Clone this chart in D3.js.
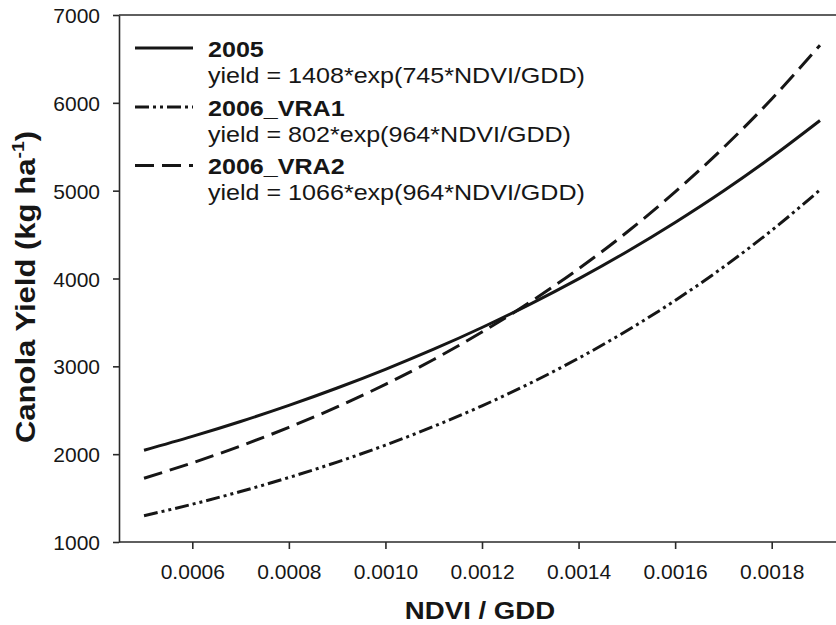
<!DOCTYPE html>
<html>
<head>
<meta charset="utf-8">
<script src="https://cdn.jsdelivr.net/npm/d3@7/dist/d3.min.js"></script>
<style>
  html, body { margin: 0; padding: 0; background: #fff; }
  svg { display: block; font-family: "Liberation Sans", Arial, sans-serif; }
</style>
</head>
<body>
<svg id="chart" width="836" height="625"></svg>
<script>
// NDVI/GDD sample positions along each fitted curve
const ndviGdd = [0.0005, 0.0006, 0.0007, 0.0008, 0.0009, 0.0010, 0.0011, 0.0012,
                 0.0013, 0.0014, 0.0015, 0.0016, 0.0017, 0.0018, 0.0019];

// Canola yield (kg/ha) along each fitted curve
const yield2005 = [2044, 2202, 2372, 2555, 2753, 2966, 3195, 3442,
                   3709, 3996, 4305, 4638, 4996, 5383, 5799];
const yieldVRA1 = [1299, 1430, 1575, 1734, 1910, 2103, 2316, 2550,
                   2808, 3092, 3405, 3750, 4130, 4548, 5008];
const yieldVRA2 = [1726, 1901, 2093, 2305, 2538, 2795, 3078, 3390,
                   3733, 4110, 4526, 4985, 5489, 6044, 6656];

const seriesNames = ["2005", "2006_VRA1", "2006_VRA2"];
const equations = [
  "yield = 1408*exp(745*NDVI/GDD)",
  "yield = 802*exp(964*NDVI/GDD)",
  "yield = 1066*exp(964*NDVI/GDD)"
];

const xTicks = [0.0006, 0.0008, 0.0010, 0.0012, 0.0014, 0.0016, 0.0018];
const yTicks = [1000, 2000, 3000, 4000, 5000, 6000, 7000];

(function draw() {
  const svg = d3.select("#chart");
  const ink = "#161616";
  const axisInk = "#2a2a2a";

  const plotLeft = 119, plotTop = 15, plotBottom = 542;
  const x = d3.scaleLinear().domain([0.0006, 0.0018]).range([192.3, 771.7]);
  const y = d3.scaleLinear().domain([1000, 7000]).range([plotBottom, plotTop]);

  // axes
  const xAxis = d3.axisBottom(x).tickValues(xTicks).tickFormat(d3.format(".4f"))
    .tickSize(7).tickSizeOuter(0);
  const yAxis = d3.axisLeft(y).tickValues(yTicks).tickFormat(d3.format("d"))
    .tickSize(6).tickSizeOuter(0);

  const gx = svg.append("g").attr("transform", `translate(0,${plotBottom})`).call(xAxis);
  gx.select(".domain").attr("d", `M${plotLeft},0H836`);
  const gy = svg.append("g").attr("transform", `translate(${plotLeft},0)`).call(yAxis);

  [gx, gy].forEach(g => {
    g.select(".domain").attr("stroke", axisInk).attr("stroke-width", 1.6);
    g.selectAll(".tick line").attr("stroke", axisInk).attr("stroke-width", 1.6);
    g.selectAll(".tick text").attr("fill", ink).attr("font-size", 21)
      .attr("font-family", "Liberation Sans, Arial, sans-serif");
  });
  gx.selectAll(".tick text").attr("y", 22).attr("dy", "0.71em");
  gy.selectAll(".tick text").attr("x", -19).attr("dy", "0.36em");

  // top frame line
  svg.append("line").attr("x1", plotLeft).attr("x2", 836)
    .attr("y1", plotTop).attr("y2", plotTop)
    .attr("stroke", axisInk).attr("stroke-width", 1.6);

  // axis titles (set in a slightly widened face)
  svg.append("text")
    .attr("transform", "translate(480,619) scale(1.15,1)")
    .attr("text-anchor", "middle")
    .attr("font-size", 24).attr("font-weight", "bold").attr("fill", ink)
    .text("NDVI / GDD");

  const yt = svg.append("text")
    .attr("transform", "translate(35,287) rotate(-90) scale(1.15,1)")
    .attr("text-anchor", "middle").attr("font-size", 27).attr("font-weight", "bold")
    .attr("fill", ink);
  yt.append("tspan").text("Canola Yield (kg ha");
  yt.append("tspan").attr("font-size", 17).attr("dy", -11).text("-1");
  yt.append("tspan").attr("dy", 11).text(")");

  // curves
  const dashes = [null, "14,4,3,4,3,4", "19,8"];
  const values = [yield2005, yieldVRA1, yieldVRA2];
  const line = d3.line().x(d => x(d[0])).y(d => y(d[1])).curve(d3.curveMonotoneX);

  values.forEach((vals, i) => {
    svg.append("path")
      .datum(ndviGdd.map((v, j) => [v, vals[j]]))
      .attr("d", line)
      .attr("fill", "none")
      .attr("stroke", ink)
      .attr("stroke-width", 3)
      .attr("stroke-dasharray", dashes[i]);
  });

  // legend: sample line, bold series name, fitted equation
  const legendNameY = [56.5, 115.5, 174];
  const legendEqY = [82.5, 141.5, 200];
  seriesNames.forEach((name, i) => {
    svg.append("line")
      .attr("x1", 135).attr("x2", 193)
      .attr("y1", legendNameY[i] - 8.5).attr("y2", legendNameY[i] - 8.5)
      .attr("stroke", ink).attr("stroke-width", 3)
      .attr("stroke-dasharray", dashes[i]);
    svg.append("text")
      .attr("transform", `translate(208,${legendNameY[i]}) scale(1.14,1)`)
      .attr("font-size", 22).attr("font-weight", "bold").attr("fill", ink)
      .text(name);
    svg.append("text")
      .attr("transform", `translate(208,${legendEqY[i]}) scale(1.14,1)`)
      .attr("font-size", 22).attr("fill", ink)
      .text(equations[i]);
  });
})();
</script>
</body>
</html>
